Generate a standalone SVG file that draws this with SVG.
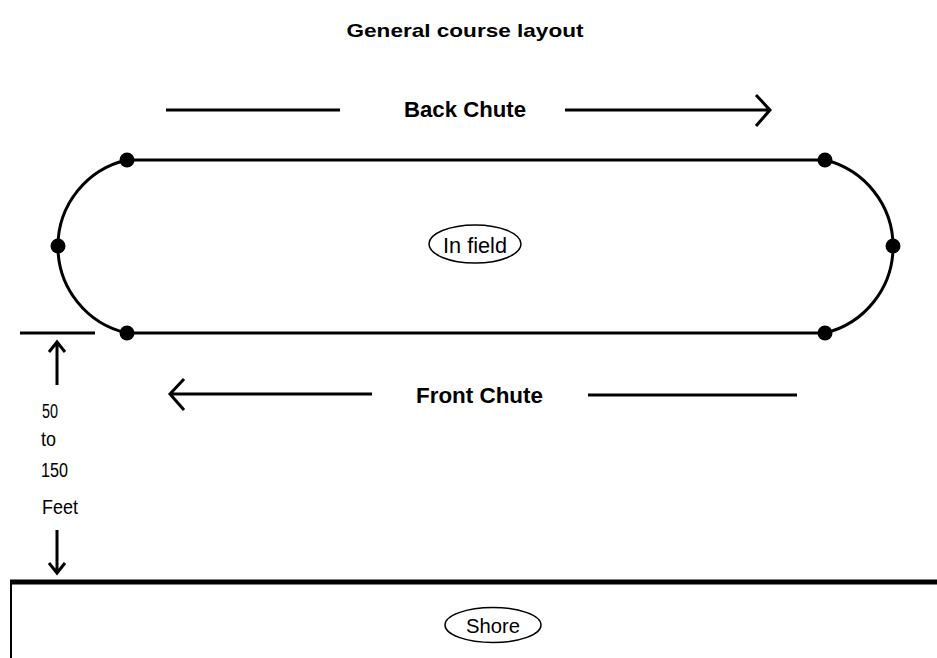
<svg xmlns="http://www.w3.org/2000/svg" width="937" height="658" viewBox="0 0 937 658">
<style>
.t{font-family:"Liberation Sans",Arial,sans-serif;fill:#000}
.b{font-weight:bold}
.ln{stroke:#000;stroke-width:3;fill:none}
.dot{fill:#000}
.ov{fill:none;stroke:#000;stroke-width:1.5}
</style>
<rect width="937" height="658" fill="#fff"/>
<text id="title" class="t b" x="465" y="37" font-size="19" text-anchor="middle" textLength="237" lengthAdjust="spacingAndGlyphs">General course layout</text>
<g id="connectors">
<path class="ln" d="M127 160 H825"/>
<path class="ln" d="M127 333 H825"/>
<path class="ln" d="M127 160 A88.7 88.7 0 0 0 127 333"/>
<path class="ln" d="M825 160 A89 89 0 0 1 825 333"/>
<path class="ln" d="M166 110 H340"/>
<path class="ln" d="M565 110 H770 M756 95 L770 110 L756 126"/>
<path class="ln" d="M170 394 H372 M184 379 L170 394 L184 410"/>
<path class="ln" d="M588 395 H797" stroke-width="4"/>
<path class="ln" d="M20 333 H95"/>
<path class="ln" d="M57 385 V342 M49 352 L57 342 L65 352"/>
<path class="ln" d="M57 530 V573 M49 563 L57 573 L65 563"/>
</g>
<g id="dots">
<circle class="dot" cx="127" cy="160" r="7.5"/>
<circle class="dot" cx="58" cy="246" r="7.5"/>
<circle class="dot" cx="127" cy="333" r="7.5"/>
<circle class="dot" cx="825" cy="160" r="7.5"/>
<circle class="dot" cx="893" cy="246" r="7.5"/>
<circle class="dot" cx="825" cy="333" r="7.5"/>
</g>
<g id="back-chute"><text class="t b" x="404" y="117" font-size="22" textLength="122" lengthAdjust="spacingAndGlyphs">Back Chute</text></g>
<g id="front-chute"><text class="t b" x="416" y="403" font-size="22" textLength="127" lengthAdjust="spacingAndGlyphs">Front Chute</text></g>
<g id="in-field">
<ellipse class="ov" cx="475" cy="244" rx="46" ry="19"/>
<text class="t" x="475" y="253" font-size="22" text-anchor="middle" textLength="64" lengthAdjust="spacingAndGlyphs">In field</text>
</g>
<g id="distance">
<text class="t" x="42" y="418" font-size="20" textLength="16" lengthAdjust="spacingAndGlyphs">50</text>
<text class="t" x="41" y="446" font-size="20" textLength="15" lengthAdjust="spacingAndGlyphs">to</text>
<text class="t" x="41" y="477" font-size="20" textLength="27" lengthAdjust="spacingAndGlyphs">150</text>
<text class="t" x="42" y="514" font-size="20" textLength="36" lengthAdjust="spacingAndGlyphs">Feet</text>
</g>
<g id="shore">
<path d="M10 582 H937" stroke="#000" stroke-width="5"/>
<path d="M11 582 V658" stroke="#000" stroke-width="2"/>
<ellipse class="ov" cx="493" cy="625" rx="48" ry="17.5"/>
<text class="t" x="493" y="633" font-size="21" text-anchor="middle" textLength="54" lengthAdjust="spacingAndGlyphs">Shore</text>
</g>
</svg>
